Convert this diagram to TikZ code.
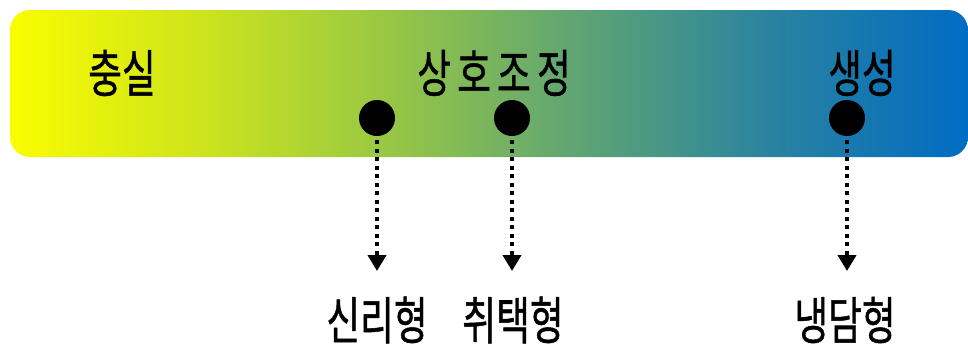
\documentclass[tikz,border=0pt]{standalone}
\usepackage{fontspec}
\newfontfamily\kofont[FakeBold=1]{Noto Sans CJK KR}
\usetikzlibrary{arrows.meta}
% the shape spans 25bp..75bp of a horizontal shading
\pgfdeclarehorizontalshading{spectrum}{100bp}{
  color(0bp)=(rgb,255:red,250;green,252;blue,0);
  color(25bp)=(rgb,255:red,250;green,252;blue,0);
  color(35bp)=(rgb,255:red,205;green,228;blue,28);
  color(45bp)=(rgb,255:red,150;green,198;blue,70);
  color(55bp)=(rgb,255:red,92;green,163;blue,118);
  color(65bp)=(rgb,255:red,40;green,130;blue,160);
  color(75bp)=(rgb,255:red,0;green,108;blue,196);
  color(100bp)=(rgb,255:red,0;green,108;blue,196)}
\tikzset{
  x=1pt, y=-1pt,
  label/.style={font=\kofont\fontsize{51}{51}\selectfont, inner sep=0pt, xscale=0.72, text=black},
  marker/.style={circle, fill=black, minimum size=36pt, inner sep=0pt},
  link/.style={line width=4pt, dash pattern=on 4pt off 4.5pt, -{Triangle[length=16pt,width=18pt]}},
}
\begin{document}
\begin{tikzpicture}
  \useasboundingbox (0,0) rectangle (968,351);
  % gradient band
  \shade[shading=spectrum, rounded corners=20pt] (10,10) rectangle (968,157);
  % band labels
  \node[label] (full) at (122,73) {충실};
  \node[label] (adjust) at (494,73) {상\,호\,조\,정};
  \node[label] (create) at (862,73) {생성};
  % markers on the band
  \node[marker] (m1) at (377,118) {};
  \node[marker] (m2) at (512,118) {};
  \node[marker] (m3) at (847,118) {};
  % type labels below
  \node[label] (t1) at (377,320) {신리형};
  \node[label] (t2) at (513,320) {취택형};
  \node[label] (t3) at (845,320) {냉담형};
  \coordinate (e1) at (377,271);
  \coordinate (e2) at (512,271);
  \coordinate (e3) at (847,271);
  \draw[link] (m1.south) ++(0,4) -- (e1);
  \draw[link] (m2.south) ++(0,4) -- (e2);
  \draw[link] (m3.south) ++(0,4) -- (e3);
\end{tikzpicture}
\end{document}
